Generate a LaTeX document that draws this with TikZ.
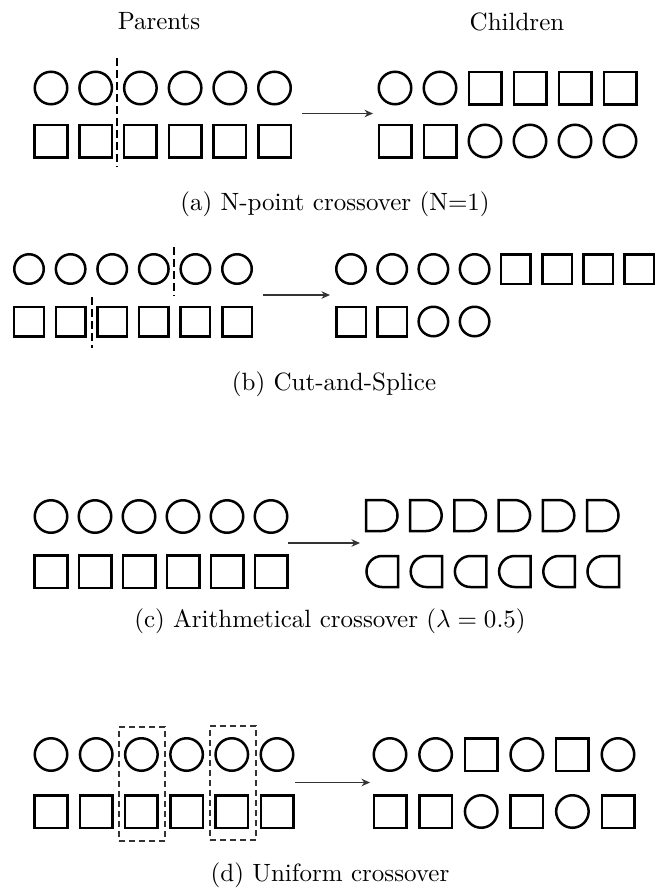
\documentclass[tikz,border=0pt]{standalone}
\usetikzlibrary{arrows.meta}

\tikzset{
  gene/.style={draw, line width=1pt, inner sep=0pt, outer sep=0pt},
  gc/.style={gene, circle, minimum size=13pt},
  gs/.style={gene, rectangle, minimum size=13pt},
  gcb/.style={gc, minimum size=11.8pt},
  gsb/.style={gs, minimum size=11.8pt},
  xarrow/.style={draw=black!80, line width=0.6pt, -{Stealth[length=3.4pt,width=3pt]}},
  cutline/.style={line width=1pt, dash pattern=on 3pt off 1.8pt},
  selbox/.style={draw=black!80, line width=0.6pt, dash pattern=on 2.4pt off 1.6pt,
    minimum width=18.4pt, minimum height=45.6pt, inner sep=0pt},
  % half square, half disc (children of the arithmetical crossover)
  dright/.pic={\draw[line width=1pt] (-16,-15.5) -- (0,-15.5)
    arc[start angle=-90, end angle=90, radius=15.5] -- (-16,15.5) -- cycle;},
  dleft/.pic={\draw[line width=1pt] (16,-15.5) -- (0,-15.5)
    arc[start angle=-90, end angle=-270, radius=15.5] -- (16,15.5) -- cycle;}
}

\begin{document}
\begin{tikzpicture}[x=0.4pt, y=-0.4pt]
  \useasboundingbox (0,0) rectangle (657,888);

  % Headings
  \node (parents) at (159,21.5) {Parents};
  \node (children) at (517,21.5) {Children};

  % (a) N-point crossover
  \foreach \i in {1,...,6} {
    \node[gc] (a-p1-\i) at ({51+44.7*(\i-1)},88) {};
    \node[gs] (a-p2-\i) at ({51+44.7*(\i-1)},141) {};
  }
  \coordinate (a-cut1) at (117,58);
  \coordinate (a-cut2) at (117,167);
  \draw[cutline] (a-cut1) -- (a-cut2);
  \coordinate (a-from) at (302,113.5);
  \coordinate (a-to) at (373,113.5);
  \draw[xarrow] (a-from) -- (a-to);
  \foreach \s [count=\i] in {gc,gc,gs,gs,gs,gs}
    \node[\s] (a-c1-\i) at ({395+45*(\i-1)},88) {};
  \foreach \s [count=\i] in {gs,gs,gc,gc,gc,gc}
    \node[\s] (a-c2-\i) at ({395+45*(\i-1)},141) {};
  \node (a-cap) at (335,204) {(a) N-point crossover (N=1)};

  % (b) Cut-and-Splice
  \foreach \i in {1,...,6} {
    \node[gcb] (b-p1-\i) at ({29+41.6*(\i-1)},269) {};
    \node[gsb] (b-p2-\i) at ({29+41.6*(\i-1)},321.5) {};
  }
  \coordinate (b-cut1) at (174,247);
  \coordinate (b-cut2) at (174,296);
  \draw[cutline] (b-cut1) -- (b-cut2);
  \coordinate (b-cut3) at (92,297);
  \coordinate (b-cut4) at (92,348);
  \draw[cutline] (b-cut3) -- (b-cut4);
  \coordinate (b-from) at (263,295);
  \coordinate (b-to) at (330,295);
  \draw[xarrow] (b-from) -- (b-to);
  \foreach \s [count=\i] in {gcb,gcb,gcb,gcb,gsb,gsb,gsb,gsb}
    \node[\s] (b-c1-\i) at ({351+41.2*(\i-1)},269) {};
  \foreach \s [count=\i] in {gsb,gsb,gcb,gcb}
    \node[\s] (b-c2-\i) at ({351+41.2*(\i-1)},321.5) {};
  \node (b-cap) at (334,384) {(b) Cut-and-Splice};

  % (c) Arithmetical crossover
  \foreach \i in {1,...,6} {
    \node[gc] (c-p1-\i) at ({51+44*(\i-1)},516.5) {};
    \node[gs] (c-p2-\i) at ({51+44*(\i-1)},571.5) {};
  }
  \coordinate (c-from) at (288,543);
  \coordinate (c-to) at (360,543);
  \draw[xarrow] (c-from) -- (c-to);
  \foreach \i in {1,...,6} {
    \coordinate (c-c1-\i) at ({382+44.2*(\i-1)},515.5);
    \pic at (c-c1-\i) {dright};
    \coordinate (c-c2-\i) at ({382+44.2*(\i-1)},571.5);
    \pic at (c-c2-\i) {dleft};
  }
  \node (c-cap) at (330,621) {(c) Arithmetical crossover ($\lambda = 0.5$)};

  % (d) Uniform crossover
  \foreach \i in {1,...,6} {
    \node[gc] (d-p1-\i) at ({51+45.2*(\i-1)},754.5) {};
    \node[gs] (d-p2-\i) at ({51+45.2*(\i-1)},811.5) {};
  }
  \node[selbox] (d-sel1) at (142,784) {};
  \node[selbox] (d-sel2) at (233,783) {};
  \coordinate (d-from) at (295,782.5);
  \coordinate (d-to) at (370,782.5);
  \draw[xarrow] (d-from) -- (d-to);
  \foreach \s [count=\i] in {gc,gc,gs,gc,gs,gc}
    \node[\s] (d-c1-\i) at ({390+45.6*(\i-1)},754.5) {};
  \foreach \s [count=\i] in {gs,gs,gc,gs,gc,gs}
    \node[\s] (d-c2-\i) at ({390+45.6*(\i-1)},811.5) {};
  \node (d-cap) at (330,875.5) {(d) Uniform crossover};
\end{tikzpicture}
\end{document}
